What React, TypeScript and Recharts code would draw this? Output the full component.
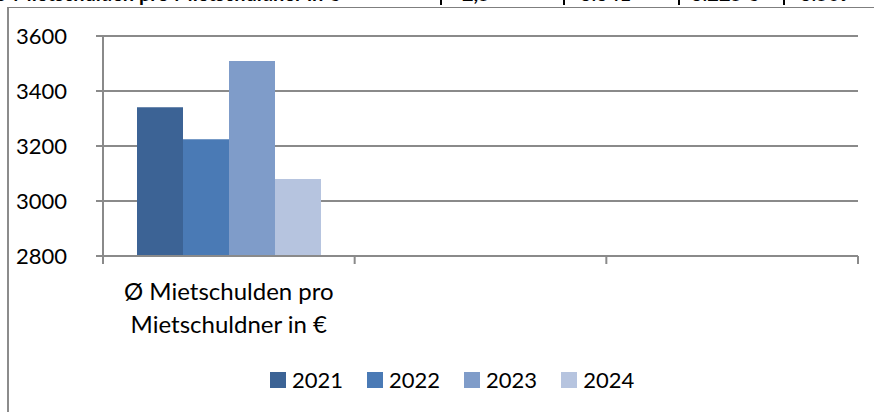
import React from 'react';
import { BarChart, Bar, XAxis, YAxis, CartesianGrid, Legend } from 'recharts';

const categories = ['Ø Mietschulden pro Mietschuldner in €', '', ' '];
const categoryLines: string[][] = [['Ø Mietschulden pro', 'Mietschuldner in €'], [], []];
const series2021 = [3341, null, null];
const series2022 = [3225, null, null];
const series2023 = [3509, null, null];
const series2024 = [3080, null, null];
const seriesNames = ['2021', '2022', '2023', '2024'];
const seriesColors = ['#3C6395', '#4A7AB5', '#7F9CC9', '#B6C4DF'];
const yTicks = [2800, 3000, 3200, 3400, 3600];
const headerCells = ['Ø Mietschulden pro Mietschuldner in €', '2,5', '3.341', '3.225 €', '3.509'];

const data = categories.map((c, i) => ({
  name: c,
  y2021: series2021[i],
  y2022: series2022[i],
  y2023: series2023[i],
  y2024: series2024[i],
}));
const seriesKeys = ['y2021', 'y2022', 'y2023', 'y2024'];

const W = 874;
const H = 412;
const MARGIN = { top: 36, right: 16, left: 23, bottom: 14 };
const Y_AXIS_W = 80;
const PLOT_W = W - MARGIN.left - MARGIN.right - Y_AXIS_W;
const BAND = PLOT_W / categories.length;
const FONT = 'Lato, "Open Sans", sans-serif';
const GRAY = '#8a8a8a';

const CategoryTick = (props: any) => {
  const { x, y, payload, index } = props;
  const half = BAND / 2;
  const idx = payload && typeof payload.index === 'number' ? payload.index : index;
  const lines = categoryLines[idx] || [];
  return (
    <g>
      {idx === 0 && (
        <line x1={x - half} x2={x - half} y1={y} y2={y + 8} stroke={GRAY} strokeWidth={2} />
      )}
      <line x1={x + half} x2={x + half} y1={y} y2={y + 8} stroke={GRAY} strokeWidth={2} />
      {lines.length > 0 && (
        <text x={x} y={y + 44} textAnchor="middle" fontSize={24} fontFamily={FONT} fill="#000">
          {lines.map((l, i) => (
            <tspan key={i} x={x} dy={i === 0 ? 0 : 33}>
              {l}
            </tspan>
          ))}
        </text>
      )}
    </g>
  );
};

const LegendContent = (props: any) => {
  const items = (props.payload || []) as any[];
  return (
    <div
      style={{
        display: 'flex',
        alignItems: 'center',
        height: 36,
        paddingLeft: 270,
        fontFamily: FONT,
        fontSize: 22,
        color: '#000',
      }}
    >
      {items.map((it, i) => (
        <div key={i} style={{ display: 'flex', alignItems: 'center', marginRight: i < items.length - 1 ? 24 : 0 }}>
          <div style={{ width: 16, height: 16, background: it.color, marginRight: 6 }} />
          <span style={{ lineHeight: '22px' }}>{it.value}</span>
        </div>
      ))}
    </div>
  );
};

export default function App() {
  return (
    <div style={{ position: 'fixed', left: 0, top: 0, width: W, height: H, background: '#fff', overflow: 'hidden' }}>
      <div
        style={{
          position: 'absolute',
          left: 0,
          top: -17,
          height: 20,
          width: W,
          fontFamily: FONT,
          fontSize: 20,
          fontWeight: 700,
          whiteSpace: 'nowrap',
          lineHeight: '20px',
        }}
      >
        <span style={{ position: 'absolute', left: -8 }}>{headerCells[0]}</span>
        <span style={{ position: 'absolute', left: 462 }}>{headerCells[1]}</span>
        <span style={{ position: 'absolute', left: 580 }}>{headerCells[2]}</span>
        <span style={{ position: 'absolute', left: 691 }}>{headerCells[3]}</span>
        <span style={{ position: 'absolute', left: 800 }}>{headerCells[4]}</span>
      </div>
      {[440, 563, 678, 783].map((lx) => (
        <div key={lx} style={{ position: 'absolute', left: lx, top: 0, width: 2, height: 5, background: '#000' }} />
      ))}
      <div
        style={{
          position: 'absolute',
          left: 7,
          top: 7,
          width: W - 7,
          height: H - 7,
          borderTop: '1px solid #7f7f7f',
          borderLeft: '2px solid #8c8c8c',
          boxSizing: 'border-box',
        }}
      />
      <div style={{ position: 'absolute', left: 0, top: 0 }}>
        <BarChart width={W} height={H} data={data} margin={MARGIN} barCategoryGap={34} barGap={0}>
          <CartesianGrid horizontal vertical={false} stroke={GRAY} strokeWidth={2} strokeDasharray="" />
          <XAxis
            dataKey="name"
            interval={0}
            height={106}
            tickLine={false}
            tickSize={0}
            tickMargin={0}
            axisLine={{ stroke: GRAY, strokeWidth: 2 }}
            tick={(p: any) => <CategoryTick {...p} />}
          />
          <YAxis
            width={Y_AXIS_W}
            domain={[2800, 3600]}
            ticks={yTicks}
            interval={0}
            tickSize={7}
            tickMargin={29}
            tickLine={{ stroke: GRAY, strokeWidth: 2 }}
            axisLine={{ stroke: GRAY, strokeWidth: 2 }}
            tick={{ fill: '#000', fontSize: 22, fontFamily: FONT }}
            allowDataOverflow
          />
          <Legend verticalAlign="bottom" height={36} wrapperStyle={{ left: 0, width: W }} content={(p: any) => <LegendContent {...p} />} />
          {seriesKeys.map((k, i) => (
            <Bar key={k} dataKey={k} name={seriesNames[i]} fill={seriesColors[i]} isAnimationActive={false} />
          ))}
        </BarChart>
      </div>
    </div>
  );
}
